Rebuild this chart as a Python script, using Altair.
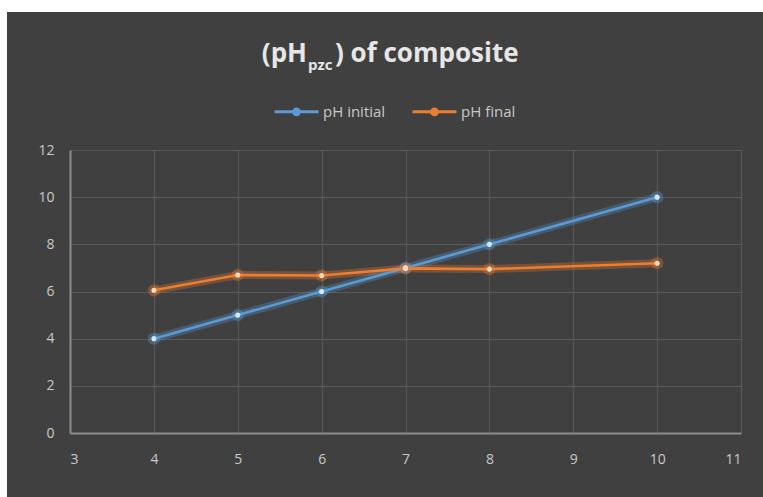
import altair as alt
import pandas as pd

# ---- data ----
x_vals = [4, 5, 6, 7, 8, 10]
ph_initial = [4, 5, 6, 7, 8, 10]
ph_final = [6.05, 6.7, 6.68, 6.98, 6.95, 7.2]
series_names = ["pH initial", "pH final"]
series_colors = ["#5B9BD5", "#ED7D31"]
point_colors = ["#d6e8fa", "#fcd9bf"]
x_ticks = [3, 4, 5, 6, 7, 8, 9, 10, 11]
y_ticks = [0, 2, 4, 6, 8, 10, 12]

rows = []
for name, vals in zip(series_names, [ph_initial, ph_final]):
    for x, y in zip(x_vals, vals):
        rows.append({"x": x, "y": y, "series": name})
df = pd.DataFrame(rows)

BG = "#404040"
W, H = 671, 283
PAD_L, PAD_T = 70, 150

axis_common = dict(title=None, grid=True, gridColor="#595959", domainColor="#8c8c8c",
                   domainWidth=2, ticks=False, labelColor="#c8c8c8", labelFontSize=14,
                   labelFont="Open Sans")
xenc = alt.X("x:Q", scale=alt.Scale(domain=[3, 11], nice=False),
             axis=alt.Axis(values=x_ticks, labelPadding=19, **axis_common))
yenc = alt.Y("y:Q", scale=alt.Scale(domain=[0, 12], nice=False),
             axis=alt.Axis(values=y_ticks, labelPadding=16, **axis_common))

color_scale = alt.Scale(domain=series_names, range=series_colors)
pt_scale = alt.Scale(domain=series_names, range=point_colors)

legend = alt.Legend(title=None, orient="none", direction="horizontal",
                    legendX=203, legendY=-62,
                    symbolType="M-1,0L1,0M0.13,0A0.13,0.13,0,1,1,-0.13,0A0.13,0.13,0,1,1,0.13,0",
                    symbolSize=1936, symbolOpacity=1, symbolFillColor="#e8e8e8",
                    symbolStrokeWidth=3, labelColor="#c8c8c8",
                    labelFont="Open Sans", labelFontSize=15,
                    labelOffset=3, columnPadding=20)

base = alt.Chart(df)

glow = base.mark_line(strokeWidth=8, opacity=0.3).encode(
    x=xenc, y=yenc, color=alt.Color("series:N", scale=color_scale, legend=legend))

line = base.mark_line(strokeWidth=2.6).encode(
    x=xenc, y=yenc, color=alt.Color("series:N", scale=color_scale, legend=legend))

pglow = base.mark_circle(size=150, opacity=0.35).encode(
    x=xenc, y=yenc, color=alt.Color("series:N", scale=color_scale, legend=legend))

pts = base.mark_point(size=26, filled=True, opacity=1, shape="circle").encode(
    x=xenc, y=yenc, fill=alt.Fill("series:N", scale=pt_scale, legend=None))

one = pd.DataFrame({"a": [0]})

# white margins of the picture (top and left strips)
strip_top = alt.Chart(one).mark_rect(color="white").encode(
    x=alt.value(-PAD_L), x2=alt.value(763 - PAD_L), y=alt.value(-PAD_T), y2=alt.value(12 - PAD_T))
strip_left = alt.Chart(one).mark_rect(color="white").encode(
    x=alt.value(-PAD_L), x2=alt.value(7 - PAD_L), y=alt.value(-PAD_T), y2=alt.value(497 - PAD_T))

title_font = "Open Sans"
t1 = alt.Chart(one).mark_text(text="(pH", font=title_font, fontSize=26, fontWeight="bold",
                              color="#e6e6e6", align="right", baseline="alphabetic").encode(
    x=alt.value(307 - PAD_L), y=alt.value(62 - PAD_T))
t2 = alt.Chart(one).mark_text(text="pzc", font=title_font, fontSize=15, fontWeight="bold",
                              color="#e6e6e6", align="left", baseline="alphabetic").encode(
    x=alt.value(308 - PAD_L), y=alt.value(70 - PAD_T))
t3 = alt.Chart(one).mark_text(text=") of composite", font=title_font, fontSize=26,
                              fontWeight="bold", color="#e6e6e6", align="left",
                              baseline="alphabetic").encode(
    x=alt.value(335 - PAD_L), y=alt.value(62 - PAD_T))

chart = alt.layer(glow, line, pglow, pts, strip_top, strip_left, t1, t2, t3).properties(
    width=W, height=H,
    background=BG,
    padding={"left": PAD_L, "top": PAD_T, "right": 763 - PAD_L - W, "bottom": 497 - PAD_T - H},
    autosize=alt.AutoSizeParams(type="none"),
).configure_view(stroke=None)

chart.save("out.html", embed_options={"renderer": "svg", "actions": False})
